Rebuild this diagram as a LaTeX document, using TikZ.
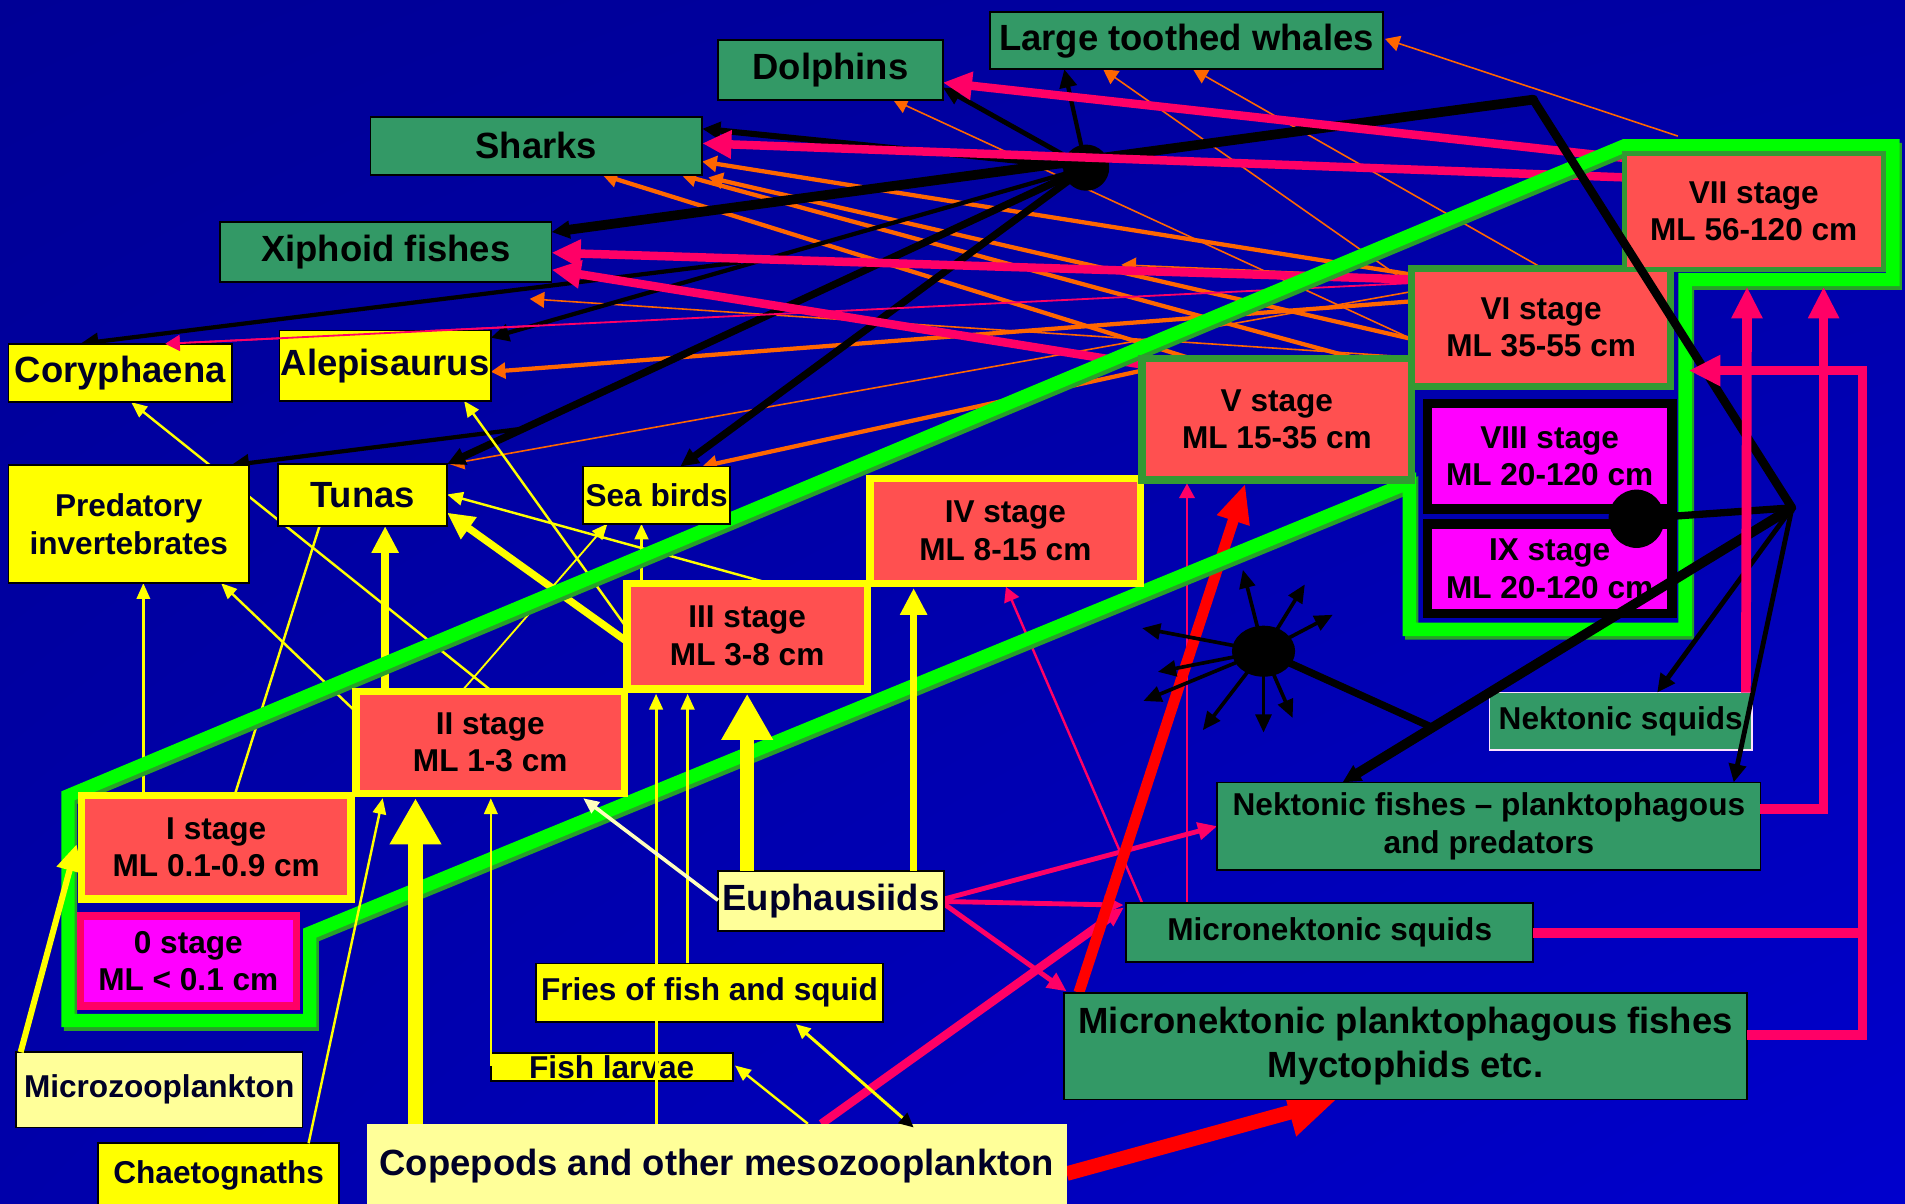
\documentclass[tikz,border=0pt]{standalone}
\usepackage{fontspec}
\setmainfont{Liberation Sans}
\usetikzlibrary{arrows.meta,calc,shapes.geometric,shadings}
\pgfdeclarelayer{bgl}\pgfdeclarelayer{lin}\pgfdeclarelayer{frt}
\pgfsetlayers{bgl,lin,main,frt}
\definecolor{bgUL}{RGB}{0,0,150}
\definecolor{bgUR}{RGB}{0,0,165}
\definecolor{bgLL}{RGB}{0,0,170}
\definecolor{bgLR}{RGB}{0,0,205}
\definecolor{grn}{RGB}{51,153,102}
\definecolor{yel}{RGB}{255,255,0}
\definecolor{lyel}{RGB}{255,255,153}
\definecolor{stred}{RGB}{255,80,80}
\definecolor{mag}{RGB}{255,0,255}
\definecolor{pk}{RGB}{255,0,102}
\definecolor{orn}{RGB}{255,102,0}
\definecolor{dgrn}{RGB}{51,153,51}
\definecolor{bgrn}{RGB}{0,255,0}
\definecolor{sgrn}{RGB}{40,160,40}
\definecolor{rd}{RGB}{255,0,0}
\definecolor{txtY}{RGB}{0,0,40}
\definecolor{pale}{RGB}{255,255,190}
\definecolor{nsqb}{RGB}{255,225,255}
\newcommand\fBig{\fontsize{30}{35}\selectfont\bfseries}
\newcommand\fBigL{\fontsize{30}{37}\selectfont\bfseries}
\newcommand\fMid{\fontsize{26}{31}\selectfont\bfseries}
\newcommand\bx[7]{\node[#2,minimum width={(#5-#3)*1pt},minimum height={(#6-#4)*1pt}] (#1) at ({(#3+#5)/2},{(#4+#6)/2}) {#7};}
\begin{document}
\begin{tikzpicture}[x=1pt,y=-1pt,
 box/.style={inner sep=0pt,outer sep=0pt,align=center,line width=1.5pt,draw=black},
 gbox/.style={box,fill=grn},
 ybox/.style={box,fill=yel,text=txtY},
 lybox/.style={box,fill=lyel,text=txtY},
 stg/.style={inner sep=0pt,outer sep=0pt,align=center,line width=6pt,fill=stred,font=\fMid},
 ot/.style={draw=orn,line width=1.3pt},
 oT/.style={draw=orn,line width=3.5pt},
 bk/.style={draw=black},
 dbl/.style={draw=black,line width=3.5pt},
 pkl/.style={draw=pk},
 yl/.style={draw=yel},
 ylp/.style={draw=pale},
 rdl/.style={draw=rd},
 spk/.style={draw=black,line width=3pt,-{Triangle[length=15pt,width=13pt]}},
 tipO/.style={-{Triangle[length=12pt,width=13pt]}},
 tipB/.style={-{Triangle[length=15pt,width=14pt]}},
 tipP/.style={-{Triangle[length=24pt,width=22pt]}},
 tipPs/.style={-{Triangle[length=16pt,width=14pt]}},
 tipP2/.style={-{Triangle[length=26pt,width=24pt]}},
 tipYs/.style={-{Triangle[length=13pt,width=11pt]}},
 tipYM/.style={-{Triangle[length=22pt,width=21pt]}},
 tipYX/.style={-{Triangle[length=38pt,width=40pt]}},
 tipR/.style={-{Triangle[length=32pt,width=26pt]}},
 tipR2/.style={-{Triangle[length=40pt,width=38pt]}},
 band/.style={line width=11pt,line join=miter}]
\useasboundingbox (0,0) rectangle (1568,991);
\begin{pgfonlayer}{bgl}
\shade[upper left=bgUL,upper right=bgUR,lower left=bgLL,lower right=bgLR] (0,0) rectangle (1568,991);
\end{pgfonlayer}

% ---------- boxes ----------
\bx{dolph}{gbox,font=\fBig}{591}{33}{776}{82}{Dolphins}
\bx{ltw}{gbox,font=\fBig}{815}{10}{1138}{57}{Large toothed whales}
\bx{sharks}{gbox,font=\fBig}{305}{96}{578}{144}{Sharks}
\bx{xiph}{gbox,font=\fBig}{181}{183}{454}{232}{Xiphoid fishes}
\bx{nsq}{gbox,font=\fMid,draw=nsqb}{1226}{570}{1442}{617}{Nektonic squids}
\bx{nfish}{gbox,font=\fMid}{1002}{644}{1449}{716}{Nektonic fishes – planktophagous\\and predators}
\bx{msq}{gbox,font=\fMid}{927}{743}{1262}{792}{Micronektonic squids}
\bx{myct}{gbox,font=\fBigL}{876}{817}{1438}{905}{Micronektonic planktophagous fishes\\Myctophids etc.}
\bx{cory}{ybox,font=\fBig}{7}{283}{191}{331}{Coryphaena}
\bx{alep}{ybox,font=\fBig}{230}{272}{404}{330}{Alepisaurus}
\bx{predinv}{ybox,font=\fMid}{7}{383}{205}{480}{Predatory\\invertebrates}
\bx{tunas}{ybox,font=\fBig}{229}{382}{368}{433}{Tunas}
\bx{seab}{ybox,font=\fMid}{480}{384}{601}{431}{Sea birds}
\bx{fries}{ybox,font=\fMid}{441}{793}{727}{841}{Fries of fish and squid}
\bx{fishl}{ybox,font=\fMid}{404}{867}{603}{890}{Fish larvae}
\bx{chaet}{ybox,font=\fMid}{81}{941}{279}{994}{Chaetognaths}
\bx{micro}{lybox,font=\fMid}{13}{866}{249}{928}{Microzooplankton}
\bx{euph}{lybox,font=\fBig}{591}{717}{777}{766}{Euphausiids}
\bx{cope}{lybox,draw=none,font=\fBig}{302}{925}{878}{994}{Copepods and other mesozooplankton}
\bx{s1}{stg,draw=yel}{67}{655}{289}{740}{I stage\\ML 0.1-0.9 cm}
\bx{s2}{stg,draw=yel}{293}{569}{514}{653}{II stage\\ML 1-3 cm}
\bx{s3}{stg,draw=yel}{516}{480}{714}{567}{III stage\\ML 3-8 cm}
\bx{s4}{stg,draw=yel}{716}{394}{939}{480}{IV stage\\ML 8-15 cm}
\bx{s5}{stg,draw=dgrn}{940}{295}{1162}{395}{V stage\\ML 15-35 cm}
\bx{s6}{stg,draw=dgrn}{1162}{221}{1375}{318}{VI stage\\ML 35-55 cm}
\bx{s7}{stg,draw=dgrn,line width=4pt}{1337}{126}{1550}{222}{VII stage\\ML 56-120 cm}
\bx{s0}{stg,fill=mag,draw=pk}{66}{754}{244}{828}{0 stage\\ML < 0.1 cm}
\bx{s8}{stg,fill=mag,draw=black,line width=8pt}{1175}{332}{1376}{419}{VIII stage\\ML 20-120 cm}
\bx{s9}{stg,fill=mag,draw=black,line width=8pt}{1175}{431}{1376}{505}{IX stage\\ML 20-120 cm}

\coordinate (hubA) at (894,138);
\coordinate (hubB) at (1347,427);
\coordinate (hubC) at (1040,536);
\coordinate (corner) at (1262,82);
\coordinate (P) at (1475,418);
\coordinate (nfA) at ($(nfish.north west)+(103,0)$);
\coordinate (jn) at ($(P)!0.8!(nfA)$);
\coordinate (xend) at ($(xiph.south west)+(255,14)$);
\coordinate (oend) at (923,218);
\coordinate (rv) at (1533,305);
\coordinate (msqE) at ($(msq.north east)+(0,25)$);
\coordinate (k5s) at ($(s6.north west)+(0,12)$);
\coordinate (k5e) at ($(cory.north west)+(129,0)$);
\coordinate (sp1) at (1023,469);
\coordinate (sp2) at (1074,481);
\coordinate (sp3) at (1097,506);
\coordinate (sp4) at (940,517);
\coordinate (sp5) at (953,553);
\coordinate (sp6) at (941,577);
\coordinate (sp7) at (990,601);
\coordinate (sp8) at (1040,603);
\coordinate (sp9) at (1064,591);

\begin{pgfonlayer}{lin}
% orange
\draw[oT,tipO] ($(s6.north west)+(0,5)$) -- ($(sharks.north east)+(0,37)$);
\draw[oT,tipO] ($(s6.north west)+(0,58)$) -- ($(sharks.south east)+(5,2)$);
\draw[oT,tipO] ($(s5.north west)+(176,0)$) -- ($(sharks.south west)+(256,0)$);
\draw[oT,tipO] ($(s5.north west)+(40,0)$) -- ($(sharks.south west)+(191,0)$);
\draw[oT,tipO] ($(s6.north west)+(0,27)$) -- ($(alep.north east)+(0,34)$);
\draw[oT,tipO] ($(s5.north west)+(0,10)$) -- ($(seab.north west)+(98,0)$);
\draw[ot,tipO] ($(s7.north west)+(44,-14)$) -- ($(ltw.north east)+(2,22)$);
\draw[ot,tipO] ($(s6.north west)+(108,0)$) -- ($(ltw.south west)+(167,0)$);
\draw[ot,tipO] ($(s6.north west)+(0,14)$) -- ($(ltw.south west)+(93,0)$);
\draw[ot,tipO] ($(s6.north west)+(0,58)$) -- ($(dolph.south west)+(144,0)$);
\draw[ot,tipO] ($(s6.north west)+(0,73)$) -- (xend);
\draw[ot,tipO] ($(s6.north west)+(0,19)$) -- ($(tunas.north east)+(2,0)$);
\draw[ot,tipO] ($(s6.north west)+(0,7)$) -- (oend);
% black from hub A
\draw[bk,line width=4pt,tipB] (hubA) -- ($(dolph.north east)+(0,39)$);
\draw[bk,line width=3.5pt,tipB] (hubA) -- ($(ltw.south west)+(61,0)$);
\draw[bk,line width=5pt,tipB] (hubA) -- ($(sharks.north east)+(0,10)$);
\draw[bk,line width=8pt,line cap=round,tipB] (corner) -- ($(xiph.north east)+(0,8)$);
\coordinate (brC) at ($(hubA)!0.58!(alep.north east)$);
\draw[dbl,tipB] (hubA) -- ($(alep.north east)+(0,6)$);
\draw[dbl,tipB] (brC) -- ($(cory.north west)+(59,0)$);
\draw[bk,line width=6pt,tipB] (hubA) -- (tunas.north east);
\coordinate (brT) at ($(hubA)!0.88!(tunas.north east)$);
\draw[dbl,tipB] (brT) -- ($(predinv.north east)+(-15,0)$);
\draw[bk,line width=6pt,tipB] (hubA) -- ($(seab.north west)+(80,0)$);
\fill[black] (hubA) ellipse[x radius=19pt,y radius=19pt];
% pink from big stages
\draw[pkl,line width=7pt,tipP] ($(s7.north west)+(0,4)$) -- ($(dolph.north east)+(0,35)$);
\draw[pkl,line width=7pt,tipP] ($(s7.north west)+(0,20)$) -- ($(sharks.north east)+(0,22)$);
\draw[pkl,line width=7pt,tipP] ($(s6.north west)+(0,9)$) -- ($(xiph.north east)+(0,25)$);
\draw[pkl,line width=7pt,tipP] ($(s5.north west)+(0,5)$) -- ($(xiph.north east)+(0,39)$);
\draw[pkl,line width=1.5pt,tipO] (k5s) -- (k5e);
% upper yellow
\draw[yl,line width=2pt,tipYs] ($(s1.north west)+(51,0)$) -- ($(predinv.south west)+(111,0)$);
\draw[yl,line width=2pt] ($(s1.north west)+(126,0)$) -- ($(tunas.south west)+(34,0)$);
\draw[yl,line width=6pt,tipYM] ($(s2.north west)+(24,0)$) -- ($(tunas.south west)+(88,0)$);
\draw[yl,line width=2pt,tipYs] ($(s2.north west)+(0,17)$) -- ($(predinv.south west)+(175,0)$);
\draw[yl,line width=2pt,tipYs] ($(s2.north west)+(112,0)$) -- ($(cory.south west)+(101,0)$);
\draw[yl,line width=2pt,tipYs] ($(s3.north west)+(0,37)$) -- ($(alep.south west)+(152,0)$);
\draw[yl,line width=2pt,tipYs] ($(s3.north west)+(117,0)$) -- ($(tunas.north east)+(0,25)$);
\draw[yl,line width=6pt,tipYM] ($(s3.north west)+(0,48)$) -- ($(tunas.north east)+(0,40)$);
\draw[yl,line width=3pt,tipYs] ($(s3.north west)+(12,0)$) -- ($(seab.south west)+(48,0)$);
\draw[yl,line width=1.5pt,tipYs] ($(s2.north west)+(87,0)$) -- ($(seab.south west)+(20,0)$);
% pink from euphausiids etc.
\draw[pkl,line width=4pt,tipPs] ($(euph.north east)+(0,23)$) -- ($(nfish.north west)+(0,36)$);
\draw[pkl,line width=4pt,tipPs] ($(euph.north east)+(0,25)$) -- ($(msq.north west)+(-2,2)$);
\draw[pkl,line width=4pt,tipPs] ($(euph.north east)+(0,27)$) -- ($(myct.north west)+(2,-1)$);
\draw[pkl,line width=7pt,tipPs] ($(cope.north west)+(374,0)$) -- ($(msq.north west)+(-2,4)$);
\draw[pkl,line width=2pt,tipO] ($(msq.north west)+(13,0)$) -- ($(s4.south west)+(112,3)$);
\draw[pkl,line width=1pt,tipO] ($(msq.north west)+(50,0)$) -- ($(s5.south west)+(37,3)$);
% red
\draw[rdl,line width=9pt,tipR] ($(myct.north west)+(12,0)$) -- ($(s5.south west)+(85,3)$);
\draw[rdl,line width=12pt,tipR2] ($(cope.north east)+(0,41)$) -- ($(myct.south west)+(224,0)$);
% hub C
\draw[spk] (hubC) -- (sp1);
\draw[spk] (hubC) -- (sp2);
\draw[spk] (hubC) -- (sp3);
\draw[spk] (hubC) -- (sp4);
\draw[spk] (hubC) -- (sp5);
\draw[spk] (hubC) -- (sp6);
\draw[spk] (hubC) -- (sp7);
\draw[spk] (hubC) -- (sp8);
\draw[spk] (hubC) -- (sp9);
\draw[bk,line width=6pt] (hubC) -- (jn);
\fill[black] (hubC) ellipse[x radius=26pt,y radius=21pt];
% green band
\draw[band,draw=sgrn,shift={(2,3)}] (56,655) -- (1337,120) -- (1558,120) -- (1558,230) -- (1387,230) -- (1387,518) -- (1160,518) -- (1160,397) -- (255,768) -- (255,840) -- (56,840) -- cycle;
\draw[band,draw=bgrn] (56,655) -- (1337,120) -- (1558,120) -- (1558,230) -- (1387,230) -- (1387,518) -- (1160,518) -- (1160,397) -- (255,768) -- (255,840) -- (56,840) -- cycle;
\end{pgfonlayer}

\begin{pgfonlayer}{frt}
% thin pink over Alepisaurus
\draw[pkl,line width=1.5pt,tipO] ($(k5s)!0.7!(k5e)$) -- (k5e);
% lower yellow
\draw[yl,line width=5pt,tipYM] ($(micro.north west)+(4,0)$) -- ($(s1.north west)+(-4,40)$);
\draw[yl,line width=2pt,tipYs] ($(chaet.north west)+(173,0)$) -- ($(s2.south west)+(22,4)$);
\draw[yl,line width=13pt,tipYX] ($(cope.north west)+(40,0)$) -- ($(s2.south west)+(49,4)$);
\draw[yl,line width=2pt,tipYs] ($(fishl.north west)+(0,10)$) -- ($(s2.south west)+(111,4)$);
\draw[yl,line width=2.5pt,tipYs] ($(cope.north west)+(238,0)$) -- ($(s3.south west)+(24,4)$);
\draw[yl,line width=2.5pt,tipYs] ($(fries.north west)+(125,0)$) -- ($(s3.south west)+(50,4)$);
\draw[yl,line width=12pt,tipYX] ($(euph.north west)+(24,0)$) -- ($(s3.south west)+(99,4)$);
\draw[yl,line width=6pt,tipYM] ($(euph.north west)+(161,0)$) -- ($(s4.south west)+(36,4)$);
\draw[ylp,line width=3pt,tipYs] ($(euph.north west)+(0,24)$) -- ($(s2.south west)+(187,4)$);
\draw[yl,line width=2pt,tipYs] ($(cope.north west)+(363,0)$) -- ($(fishl.north east)+(2,10)$);
\draw[yl,line width=2.5pt,{Triangle[length=12pt,width=11pt,color=black]}-{Triangle[length=12pt,width=11pt]}] ($(cope.north west)+(450,3)$) -- ($(fries.south west)+(214,2)$);
% right black lines
\draw[bk,line width=7pt,line cap=round] (P) -- (corner);
\draw[bk,line width=6pt] (hubB) -- (P);
\draw[bk,line width=4pt,tipB] (P) -- ($(nsq.north west)+(138,0)$);
\draw[bk,line width=4pt,tipB] (P) -- ($(nfish.north west)+(425,0)$);
\draw[bk,line width=8pt,tipB] (P) -- (nfA);
\fill[black] (hubB) ellipse[x radius=23pt,y radius=24pt];
% right pink loops
\draw[pkl,line width=8pt,tipP2] ($(nsq.north east)+(-5,0)$) -- ($(s7.south west)+(101,14)$);
\draw[pkl,line width=8pt,tipP2] ($(nfish.north east)+(0,22)$) -| ($(s7.south west)+(164,14)$);
\draw[pkl,line width=8pt,tipP2] ($(myct.north east)+(0,35)$) -| (rv) -- ($(s6.north east)+(15,84)$);
\draw[pkl,line width=8pt] (msqE) -- (msqE -| rv);
\end{pgfonlayer}
\end{tikzpicture}
\end{document}
